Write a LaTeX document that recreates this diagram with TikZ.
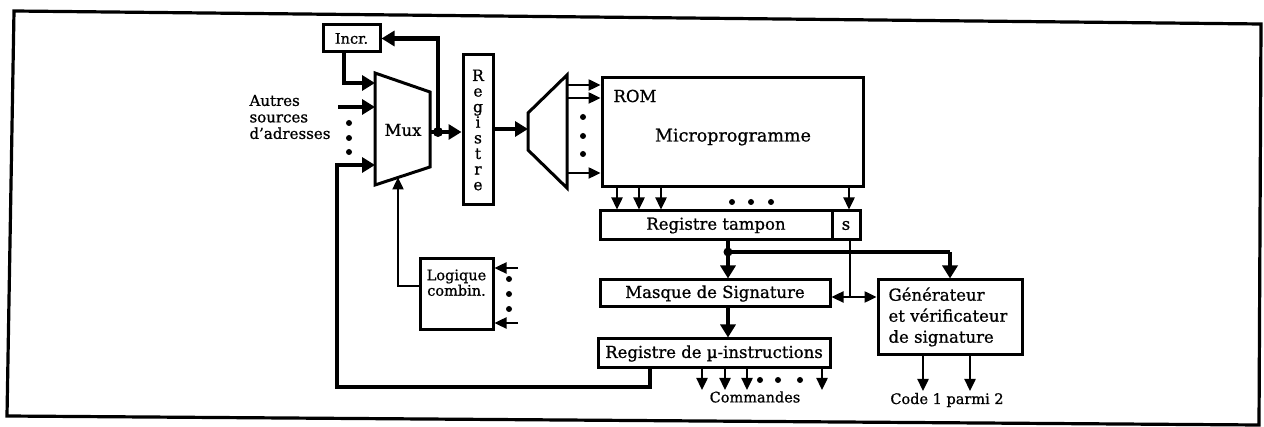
\documentclass[tikz,border=0pt]{standalone}
\usepackage{fontspec}
\setmainfont{DejaVu Serif}[FakeBold=0.9]
\usetikzlibrary{arrows.meta}
\begin{document}
\begin{tikzpicture}[x=1pt,y=-1pt,
  box/.style={draw,line width=3pt,inner sep=0pt},
  bus/.style={line width=4.8pt,-{Triangle[length=13pt,width=15pt]}},
  busline/.style={line width=4.8pt},
  wire/.style={line width=2.4pt,-{Triangle[length=12pt,width=11pt]}},
  wireline/.style={line width=2.4pt},
  dot/.style={fill,circle,inner sep=0pt,minimum size=6pt},
  txt/.style={font=\fontsize{16.5}{18}\selectfont},
  stxt/.style={font=\fontsize{14.5}{16}\selectfont},
  line join=miter]
\useasboundingbox (0,0) rectangle (1264,427);
\draw[line width=3.2pt] (14,11) -- (1261,24) -- (1259,425) -- (7,416) -- cycle;

% boxes
\node[box,minimum width=57pt,minimum height=27pt,font=\fontsize{14.5}{16}\selectfont] (incr) at (351.5,38.5) {Incr.};
\node[box,minimum width=30pt,minimum height=150pt] (reg) at (478,130) {};
\node[align=center,font=\fontsize{15.5}{15.6}\selectfont] (regt) at (478,130) {R\\e\\g\\i\\s\\t\\r\\e};
\node[box,minimum width=261pt,minimum height=109pt] (rom) at (732.5,132.5) {};
\node[txt,anchor=west] (romt) at (610,96) {ROM};
\node[font=\fontsize{17.5}{19}\selectfont] (micro) at (733,137) {Microprogramme};
\node[box,minimum width=232pt,minimum height=29pt,txt] (tampon) at (716,225.5) {Registre tampon};
\node[box,minimum width=28pt,minimum height=29pt,txt] (s) at (846,225.5) {s};
\node[box,minimum width=230pt,minimum height=27pt,txt] (masque) at (715,293.5) {Masque de Signature};
\node[box,minimum width=144pt,minimum height=75pt] (gen) at (950,317.5) {};
\node[align=left,anchor=north west,font=\fontsize{16.5}{21}\selectfont] (gent) at (885,284) {Générateur\\et vérificateur\\de signature};
\node[box,minimum width=232pt,minimum height=29pt,txt] (uinst) at (714,353.5) {Registre de µ-instructions};
\node[box,minimum width=73pt,minimum height=71pt] (logic) at (456.5,294.5) {};
\node[align=center,anchor=north,font=\fontsize{14.5}{15.5}\selectfont] (logict) at (456.5,266) {Logique\\combin.};

% mux
\coordinate (muxTL) at (375,73); \coordinate (muxBL) at (375,185);
\coordinate (muxTR) at (430,92); \coordinate (muxBR) at (430,167);
\draw[line width=3pt] (muxTL) -- (muxTR) -- (muxBR) -- (muxBL) -- cycle;
\node[txt] (muxt) at (403,130) {Mux};

% decoder
\coordinate (decTL) at (528,113); \coordinate (decBL) at (528,150);
\coordinate (decTR) at (567,75); \coordinate (decBR) at (567,188);
\draw[line width=3pt] (decTL) -- (decTR) -- (decBR) -- (decBL) -- cycle;

% labels
\node[align=left,anchor=west,font=\fontsize{15}{16.5}\selectfont] (autres) at (246,117) {Autres\\sources\\d'adresses};
\node[stxt] (cmd) at (755,397) {Commandes};
\node[stxt] (code) at (947,400) {Code 1 parmi 2};

% mux inputs
\coordinate (m1) at (375,83); \coordinate (m2) at (375,107); \coordinate (m3) at (375,165);
\coordinate (ia) at (344,83);
\draw[bus] (incr.south -| ia) -- (ia) -- (m1);
\coordinate (a2) at (338,107);
\draw[bus] (a2) -- (m2);
\node[dot] (md1) at (349,123) {};
\node[dot] (md2) at (349,138) {};
\node[dot] (md3) at (349,152) {};

% mux output
\coordinate (mo) at (430,132);
\coordinate (j) at (438,132);
\draw[bus] (mo) -- (mo -| reg.west);
\draw[bus] (j) |- (incr.east);
\node[dot,minimum size=10pt] (jd) at (j) {};

% feedback
\coordinate (f1) at (650,387); \coordinate (f2) at (337,387);
\draw[bus] (uinst.south -| f1) -- (f1) -- (f2) |- (m3);

% logic
\coordinate (l1) at (398,286); \coordinate (mb) at (398,177.5);
\draw[wire] (logic.west |- l1) -- (l1) -- (mb);
\coordinate (li1) at (518,268); \coordinate (li2) at (518,323);
\draw[wire] (li1) -- (li1 -| logic.east);
\draw[wire] (li2) -- (li2 -| logic.east);
\node[dot] (ld1) at (509,279) {};
\node[dot] (ld2) at (509,294) {};
\node[dot] (ld3) at (509,309) {};

% register to decoder
\coordinate (dl) at (528,129);
\draw[bus] (reg.east |- dl) -- (dl);

% decoder outputs
\coordinate (d1) at (567,85); \coordinate (d2) at (567,98); \coordinate (d3) at (567,173);
\draw[wire] (d1) -- (d1 -| rom.west);
\draw[wire] (d2) -- (d2 -| rom.west);
\draw[wire] (d3) -- (d3 -| rom.west);
\node[dot] (dd1) at (583,117) {};
\node[dot] (dd2) at (583,136) {};
\node[dot] (dd3) at (583,154) {};

% ROM outputs
\coordinate (r1) at (617,0); \coordinate (r2) at (639,0); \coordinate (r3) at (661,0); \coordinate (r4) at (849,0);
\draw[wire] (rom.south -| r1) -- (tampon.north -| r1);
\draw[wire] (rom.south -| r2) -- (tampon.north -| r2);
\draw[wire] (rom.south -| r3) -- (tampon.north -| r3);
\draw[wire] (rom.south -| r4) -- (s.north -| r4);
\node[dot] (rd1) at (732,202) {};
\node[dot] (rd2) at (751,202) {};
\node[dot] (rd3) at (771,202) {};

% bus from tampon
\coordinate (b1) at (728,252); \coordinate (b2) at (950,252);
\draw[busline] (tampon.south -| b1) -- (b1) -- (b2);
\draw[bus] (b2) -- (b2 |- gen.north);
\draw[bus] (b1) -- (masque.north -| b1);
\node[dot,minimum size=9pt] (bd) at (b1) {};
\draw[bus] (masque.south -| b1) -- (uinst.north -| b1);

% s line
\coordinate (s1) at (850,297);
\draw[wireline] (s.south -| s1) -- (s1);
\draw[wire] (s1) -- (s1 -| masque.east);
\draw[wire] (s1) -- (s1 -| gen.west);

% outputs
\coordinate (o1) at (702,390); \coordinate (o2) at (725,390); \coordinate (o3) at (747,390); \coordinate (o4) at (822,390);
\foreach \o in {o1,o2,o3,o4} {\draw[wire] (uinst.south -| \o) -- (\o);}
\node[dot] (od1) at (760,380) {};
\node[dot] (od2) at (778,380) {};
\node[dot] (od3) at (800,380) {};
\coordinate (g1) at (923,391); \coordinate (g2) at (970,391);
\draw[wire] (gen.south -| g1) -- (g1);
\draw[wire] (gen.south -| g2) -- (g2);
\end{tikzpicture}
\end{document}
